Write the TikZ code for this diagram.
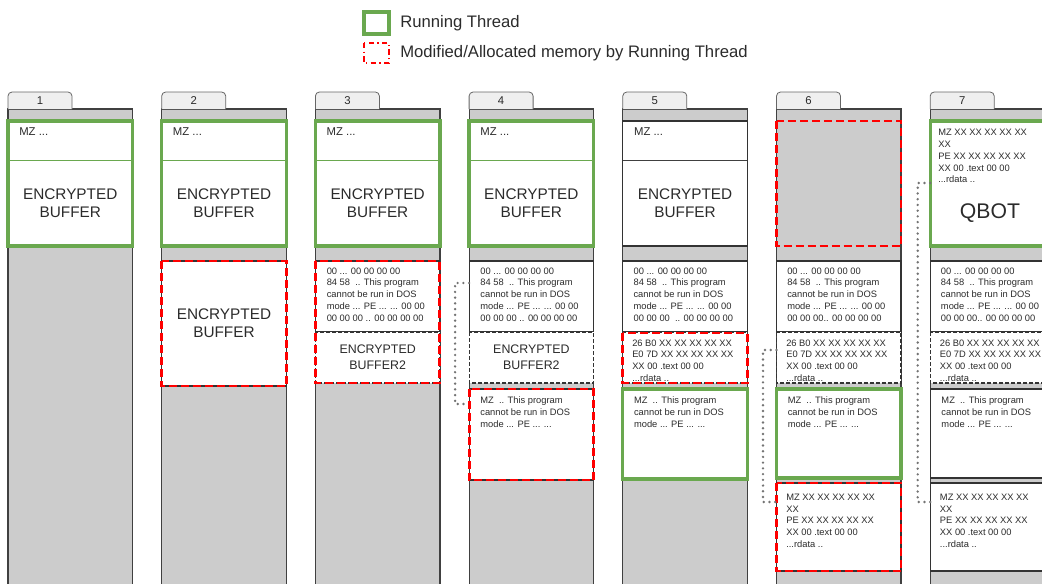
\documentclass[tikz,border=0pt]{standalone}
\usepackage{fontspec}
\setmainfont{Liberation Sans}

\definecolor{rungreen}{HTML}{6AA84F}
\definecolor{modred}{HTML}{FF0000}
\definecolor{memgray}{HTML}{CCCCCC}
\definecolor{tabgray}{HTML}{EFEFEF}
\definecolor{txtgray}{HTML}{2B2B2B}

\newcommand{\doshdr}[1]{00 ... 00 00 00 00\\84 58 \ .. This program\\cannot be run in DOS\\mode ... PE ... ... 00 00\\#1}
\newcommand{\secttext}{26 B0 XX XX XX XX XX\\E0 7D XX XX XX XX XX\\XX 00 .text 00 00\\...rdata ..}
\newcommand{\peimage}{MZ XX XX XX XX XX\\XX\\PE XX XX XX XX XX\\XX 00 .text 00 00\\...rdata ..}
\newcommand{\mzstub}{MZ \ .. This program\\cannot be run in DOS\\mode ... PE ... ...}

\tikzset{
  colbox/.style={draw=black!75, fill=memgray, line width=0.9pt},
  tabshape/.style={draw=black!60, fill=tabgray, rounded corners=3pt, line width=0.6pt},
  secbox/.style={draw=black!80, fill=white, line width=0.8pt},
  subbox/.style={draw=black!80, fill=white, line width=0.8pt, dash pattern=on 3pt off 1.5pt},
  running/.style={draw=rungreen, line width=2.5pt},
  modified/.style={draw=modred, line width=2.2pt, dash pattern=on 6pt off 3pt},
  link/.style={draw=black!55, line width=2pt, dash pattern=on 0pt off 4.3pt, line cap=round},
  tablabel/.style={font=\fontsize{8.5}{10}\selectfont, text=txtgray, inner sep=0pt},
  mzlabel/.style={anchor=west, font=\fontsize{8.5}{10}\selectfont, text=txtgray, inner sep=0pt},
  buftext/.style={align=center, font=\fontsize{11.5}{13.5}\selectfont, text=txtgray, inner sep=0pt},
  buf2text/.style={align=center, font=\fontsize{9.3}{12}\selectfont, text=txtgray, inner sep=0pt},
  hexbox/.style={anchor=north west, align=left, inner sep=0pt, font=\fontsize{7}{8.8}\selectfont, text=txtgray},
  legtext/.style={anchor=west, font=\fontsize{12.5}{15}\selectfont, text=txtgray, inner sep=0pt}
}

\begin{document}
\begin{tikzpicture}[x=0.75pt,y=-0.75pt]
\useasboundingbox (0,0) rectangle (1042,583);
\clip (0,0) rectangle (1042,583);

% legend
\draw[running] (364,12) rectangle (389,34);
\node[legtext] (lgrun) at (400,23) {Running Thread};
\draw[modified, dash pattern=on 4pt off 2.5pt on 1pt off 2.5pt] (364,43) rectangle (389,63);
\node[legtext] (lgmod) at (400,53) {Modified/Allocated memory by Running Thread};

% columns with tabs
\foreach \xl [count=\i] in {8,161.7,315.4,469.1,622.8,776.5,930.2} {
  \draw[colbox] (\xl,109) rectangle ++(124.5,490);
  \draw[tabshape] (\xl,109) -- ++(0,-17) -- ++(64,0) -- ++(0,17);
  \node[tablabel] (tab\i) at (\xl+32,100.5) {\i};
}

% header + encrypted buffer
\foreach \xl [count=\i] in {8,161.7,315.4,469.1,622.8} {
  \draw[secbox] (\xl,121) rectangle ++(124.5,125);
  \draw[black!75] (\xl,160) -- ++(124.5,0);
  \node[mzlabel] (mz\i) at (\xl+11,131.7) {MZ ...};
  \node[buftext] (enc\i) at (\xl+62.25,203) {ENCRYPTED\\BUFFER};
}
\foreach \xl in {8,161.7,315.4,469.1} {
  \draw[running, line width=0.6pt] (\xl,160) -- ++(124.5,0);
  \draw[running] (\xl,121) rectangle ++(124.5,125);
}
\draw[modified] (776.5,121) rectangle ++(124.5,125);
\draw[secbox] (930.2,121) rectangle ++(124.5,125);
\draw[running] (930.2,121) rectangle ++(124.5,125);
\node[hexbox] (pe7) at (938,129.3) {\peimage};
\node[font=\fontsize{15.9}{19}\selectfont, text=txtgray] (qbot) at (990,212.7) {QBOT};

% second copy
\draw[secbox] (161.7,261) rectangle ++(124.5,125);
\draw[modified] (161.7,261) rectangle ++(124.5,125);
\node[buftext] (enc2b) at (223.95,323.5) {ENCRYPTED\\BUFFER};

\foreach \xl in {315.4,469.1,622.8,776.5,930.2} {
  \draw[secbox] (\xl,261) rectangle ++(124.5,71);
  \draw[subbox] (\xl,332) rectangle ++(124.5,51);
}
\node[hexbox] (dos3) at (326.5,267.3) {\doshdr{00 00 00 .. 00 00 00 00}};
\node[hexbox] (dos4) at (480.2,267.3) {\doshdr{00 00 00 .. 00 00 00 00}};
\node[hexbox] (dos5) at (633.3,267.3) {\doshdr{00 00 00 \ .. 00 00 00 00}};
\node[hexbox] (dos6) at (787,267.3) {\doshdr{00 00 00.. 00 00 00 00}};
\node[hexbox] (dos7) at (940.7,267.3) {\doshdr{00 00 00.. 00 00 00 00}};
\node[buf2text] (encb3) at (377.65,357.5) {ENCRYPTED\\BUFFER2};
\node[buf2text] (encb4) at (531.35,357.5) {ENCRYPTED\\BUFFER2};
\draw[modified] (315.4,261) rectangle ++(124.5,122);

\draw[modified] (622.8,333) rectangle ++(124.5,50);
\node[hexbox] (sec5) at (632,339.3) {\secttext};
\node[hexbox] (sec6) at (786,339.3) {\secttext};
\node[hexbox] (sec7) at (939.7,339.3) {\secttext};

% mapped stubs and images
\draw[secbox] (469.1,389) rectangle ++(124.5,91);
\draw[modified] (469.1,389) rectangle ++(124.5,91);
\draw[secbox] (622.8,389) rectangle ++(124.5,90);
\draw[running] (622.8,389) rectangle ++(124.5,90);
\draw[secbox] (776.5,389) rectangle ++(124.5,89);
\draw[running] (776.5,389) rectangle ++(124.5,89);
\draw[secbox] (930.2,389) rectangle ++(124.5,89);
\foreach \xl [count=\i from 4] in {469.1,622.8,776.5,930.2}
  \node[hexbox] (stub\i) at (\xl+11,396.6) {\mzstub};

\draw[secbox] (776.5,483) rectangle ++(124.5,88);
\draw[modified] (776.5,483) rectangle ++(124.5,88);
\draw[secbox] (930.2,483) rectangle ++(124.5,88);
\node[hexbox] (pe6) at (786,493.6) {\peimage};
\node[hexbox] (pe7b) at (939.7,493.6) {\peimage};

% dotted links
\coordinate (src4) at (469.1,283);
\coordinate (dst4) at (469.1,404);
\coordinate (src6) at (776.5,350);
\coordinate (dst6) at (776.5,502);
\coordinate (src7) at (930.2,183);
\coordinate (dst7) at (930.2,502);
\draw[link] (src4) -- ++(-14,0) |- (dst4);
\draw[link] (src6) -- ++(-13.5,0) |- (dst6);
\draw[link] (src7) -- ++(-12.5,0) |- (dst7);
\end{tikzpicture}
\end{document}
